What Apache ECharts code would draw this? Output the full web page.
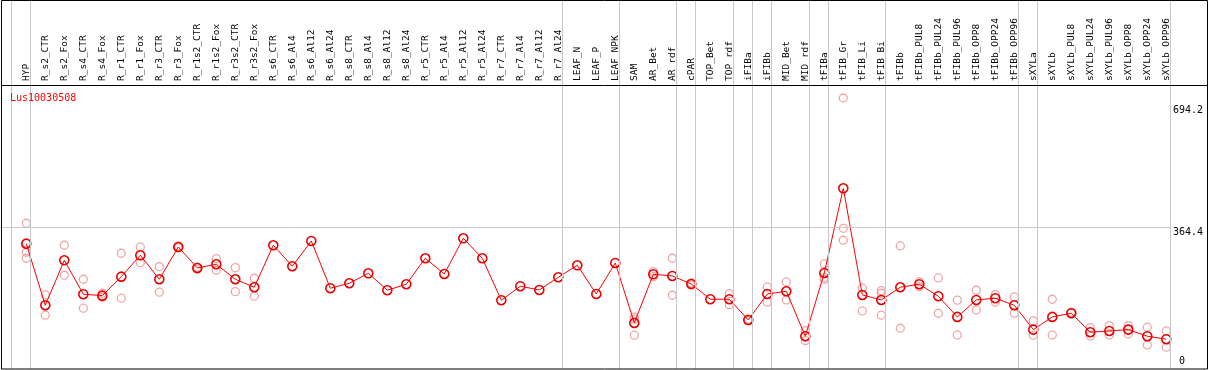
<!DOCTYPE html>
<html>
<head>
<meta charset="utf-8">
<script src="https://cdn.jsdelivr.net/npm/echarts@6/dist/echarts.min.js"></script>
<style>
html,body{margin:0;padding:0;background:#fff;}
#chart{width:1209px;height:370px;}
</style>
</head>
<body>
<div id="chart"></div>
<script>
const title = 'Lus10030508';
const categories = ['HYP','R_s2_CTR','R_s2_Fox','R_s4_CTR','R_s4_Fox','R_r1_CTR','R_r1_Fox','R_r3_CTR','R_r3_Fox','R_r1s2_CTR','R_r1s2_Fox','R_r3s2_CTR','R_r3s2_Fox','R_s6_CTR','R_s6_Al4','R_s6_Al12','R_s6_Al24','R_s8_CTR','R_s8_Al4','R_s8_Al12','R_s8_Al24','R_r5_CTR','R_r5_Al4','R_r5_Al12','R_r5_Al24','R_r7_CTR','R_r7_Al4','R_r7_Al12','R_r7_Al24','LEAF_N','LEAF_P','LEAF_NPK','SAM','AR_Bet','AR_rdf','cPAR','TOP_Bet','TOP_rdf','iFIBa','iFIBb','MID_Bet','MID_rdf','tFIBa','tFIB_Gr','tFIB_Li','tFIB_Bi','tFIBb','tFIBb_PUL8','tFIBb_PUL24','tFIBb_PUL96','tFIBb_OPP8','tFIBb_OPP24','tFIBb_OPP96','sXYLa','sXYLb','sXYLb_PUL8','sXYLb_PUL24','sXYLb_PUL96','sXYLb_OPP8','sXYLb_OPP24','sXYLb_OPP96'];
const meanValues = [322.4,165.3,280.1,193.4,189.8,238.3,292.8,231.6,314,260.5,269.9,231.6,211.2,
 318.4,264.8,329.3,208.7,221.4,246.9,203.6,218.9,285.2,245.2,336.2,285.2,178.1,213.8,204.3,236.7,267.3,194.1,273.2,
 120.2,244.3,240,219.6,180.6,180.6,127.8,194.1,201,86.2,247.7,463.8,191.6,178.8,
 211.2,218.9,188.3,135.5,178.8,183.2,165.3,103.1,135.5,144.9,96.4,99.7,103.1,86.2,78.6];
const replicateValues = [
 [374.5,325,300.5,285.2],[191.6,139.8],[318.4,241.8],[231.6,157.7],[195.9,185.7],[298,183.2],[314,274],[263.8,198.5],[316,312],[262.2,257],[284.2,254.6],[261.2,200],[234.2,188.3],
 [],[],[],[],[],[],[],[],[],[],[],[],[],[],[],[],[],[],[],
 [134.7,129.6,88.8],[251,238.3],[285.2,190.8],[222,217],[],[194.9,166.8],[129.6,126],[212,173],[224.7,178.8],[100.5,75],[270.7,236,231],[694.2,361.7,331.1],[209.4,150.8],[202.6,195.9,139.8],
 [316.6,106.6],[225.5,212.8],[235,144.9],[178.1,89.5],[203.6,153.3],[192.3,173],[186.5,144.9],[125.3,88.8],[180.6,89.5],[147.4,146],[108.2,87],[113.3,89.5],[113.3,92.1],[109.2,64],[99.7,58.2]
];
// group separators drawn after these category indexes
const separatorsAfter = [-1,0,28,31,34,35,37,38,39,41,42,45,52,53,60];
const yTickValues = [694.2, 364.4, 0];
const yTickLabels = ['694.2', '364.4', '0'];
const gridValue = 364.4;
const yMax = 694.2;

// layout
const X0 = 26.3, STEP = 19;            // pixel of first category centre, spacing
const PLOT_RIGHT = 1170, W = 1209, H = 370;
const PLOT_TOP = 98, PLOT_BOTTOM = 370.1;
const SEP_OFFSET = 0.216;

const chart = echarts.init(document.getElementById('chart'), null, {renderer:'canvas'});

const meanData = meanValues.map((v,i)=>[i,v]);
const repData = [];
replicateValues.forEach((arr,i)=>arr.forEach(v=>repData.push([i,v])));
const labelIdx = categories.map((c,i)=>i);

const FONT = 'DejaVu Sans Mono';

const option = {
  animation:false,
  backgroundColor:'#fff',
  grid:[
    {left:0, top:PLOT_TOP, width:PLOT_RIGHT, height:PLOT_BOTTOM-PLOT_TOP, containLabel:false},
    {left:0, top:0, width:W, height:369, containLabel:false}
  ],
  xAxis:[
    {type:'value', gridIndex:0, position:'top', offset:PLOT_TOP-86,
     min:-X0/STEP, max:(PLOT_RIGHT-X0)/STEP,
     axisLine:{show:false}, axisTick:{show:false}, splitLine:{show:false},
     axisLabel:{show:true, customValues:labelIdx, rotate:90, margin:5,
       fontFamily:FONT, fontSize:9.5, color:'#000',
       formatter:(v)=>categories[Math.round(v)] || ''}},
    {type:'value', gridIndex:1, min:-X0/STEP, max:(W-X0)/STEP, show:false}
  ],
  yAxis:[
    {type:'value', gridIndex:0, min:0, max:yMax, show:false},
    {type:'value', gridIndex:1, min:0, max:1, show:false}
  ],
  series:[
    {type:'line', xAxisIndex:1, yAxisIndex:1, data:[], silent:true,
     markLine:{silent:true, symbol:['none','none'], animation:false,
       label:{show:false}, lineStyle:{color:'#c8c8c8', width:1, type:'solid'},
       data:separatorsAfter.map(g=>({xAxis:g+SEP_OFFSET}))}},
    {type:'scatter', xAxisIndex:0, yAxisIndex:0, data:repData, symbol:'circle', symbolSize:8,
     itemStyle:{color:'rgba(0,0,0,0)', borderColor:'#ee8e8e', borderWidth:1.3}, z:3},
    {type:'line', xAxisIndex:0, yAxisIndex:0, data:meanData, symbol:'circle', symbolSize:9,
     showAllSymbol:true,
     lineStyle:{color:'#ff0000', width:1},
     itemStyle:{color:'rgba(0,0,0,0)', borderColor:'#e80000', borderWidth:1.6}, z:4,
     markLine:{silent:true, symbol:['none','none'], label:{show:false},
       lineStyle:{color:'#c8c8c8', width:1, type:'solid'},
       data:[{yAxis:gridValue}]}}
  ]
};
chart.setOption(option);

// frame, header line, title and y labels
const gfx = [
  {type:'rect', shape:{x:1.5, y:0.5, width:1206, height:368.5}, style:{fill:'none', stroke:'#000', lineWidth:1}, z:100},
  {type:'line', shape:{x1:1.5, y1:85.5, x2:1207.5, y2:85.5}, style:{stroke:'#000', lineWidth:1}, z:100},
  {type:'text', left:10, top:93, style:{text:title, fill:'#ff0000', font:'10px "'+FONT+'"'}, z:100}
];
yTickValues.forEach((v,k)=>{
  const py = chart.convertToPixel({yAxisIndex:0}, v);
  const cy = Math.max(110.5, Math.min(361.5, py + 5));
  const lx = v === 0 ? 1179 : 1173;
  gfx.push({type:'text', x:lx, y:cy, style:{text:yTickLabels[k], fill:'#000', font:'10px "'+FONT+'"', textVerticalAlign:'middle', verticalAlign:'middle'}, z:100});
});
chart.setOption({graphic:gfx});
</script>
</body>
</html>
